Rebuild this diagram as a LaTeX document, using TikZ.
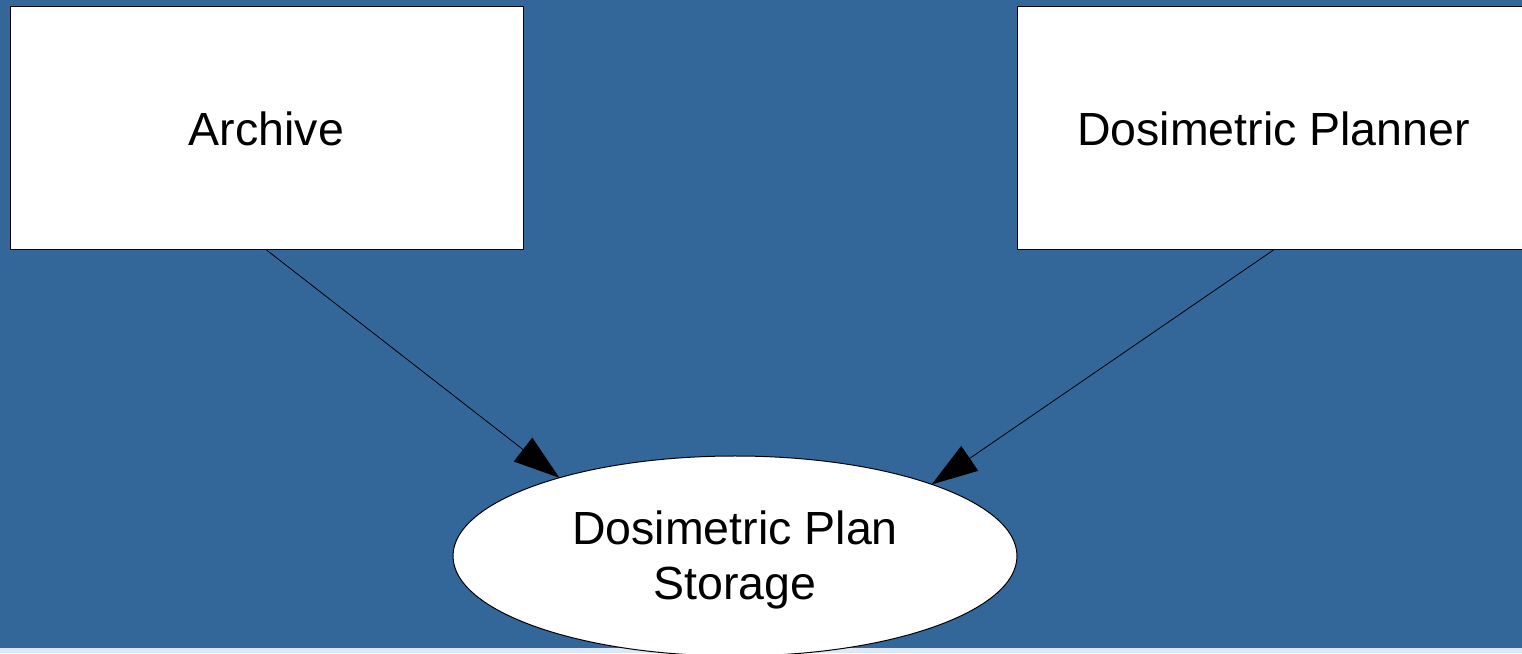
\documentclass[tikz,border=0pt]{standalone}
\usepackage{fontspec}
\setmainfont{Liberation Sans}
\usetikzlibrary{arrows.meta,shapes.geometric}
\definecolor{bgblue}{HTML}{336699}
\definecolor{stripblue}{HTML}{DCE8F4}
\begin{document}
\begin{tikzpicture}[x=1pt,y=1pt,
    box/.style={draw=black,fill=white,line width=1pt,minimum width=513pt,minimum height=243pt,inner sep=0pt,outer sep=0pt,font=\fontsize{46.5}{55}\selectfont},
    store/.style={ellipse,draw=black,fill=white,line width=1pt,minimum width=564pt,minimum height=200pt,inner sep=0pt,outer sep=0pt,align=center,text depth=2pt,font=\fontsize{46.5}{55}\selectfont},
    flow/.style={-{Triangle[length=46pt,width=30pt]},line width=0.8pt}]
  \useasboundingbox (0,0) rectangle (1522,653);
  \clip (0,0) rectangle (1522,653);
  \fill[bgblue] (0,0) rectangle (1522,653);
  \fill[stripblue] (0,0) rectangle (1522,5);
  \node[box] (archive) at (266.5,524.5){Archive};
  \node[box] (planner) at (1273.5,524.5){Dosimetric Planner};
  \node[store] (plan) at (735,97){Dosimetric Plan\\Storage};
  \draw[flow] (archive.south) -- (plan.156.8);
  \draw[flow] (planner.south) -- (plan.20.8);
\end{tikzpicture}
\end{document}
